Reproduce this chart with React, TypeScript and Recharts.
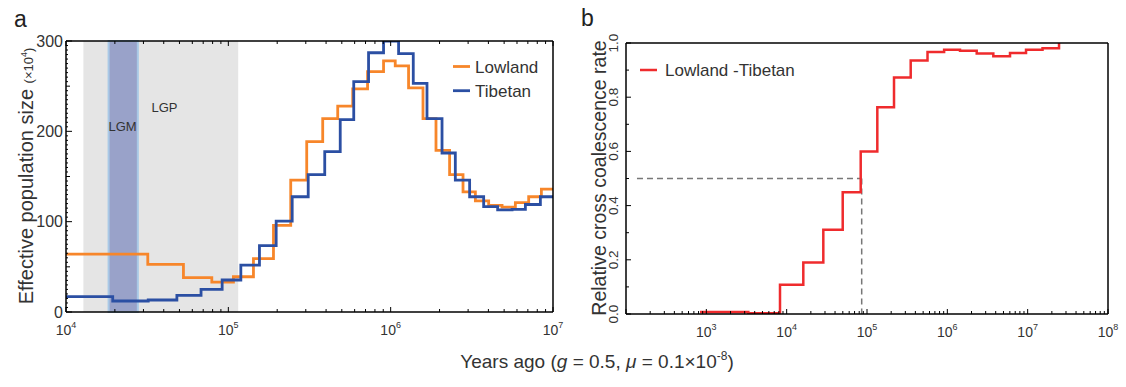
import React from 'react';
import { LineChart, Line, XAxis, YAxis, ReferenceArea, ReferenceLine } from 'recharts';

const FONT = '"Liberation Sans", Arial, Helvetica, sans-serif';
const TEXT = '#333333';
const ORANGE = '#f7862a';
const BLUE = '#2b4fa3';
const RED = '#ef2b2d';

// ---------- Panel a: effective population size (x10^4) ----------
const lowlandTimes = [10000, 31900, 52900, 79100, 107500, 142800, 189700, 242300, 304000, 381400, 471900, 583800, 720600, 904000, 1067000, 1289000, 1582000, 1902000, 2307000, 2791000, 3325000, 4015000, 4855000, 5864000, 7083000, 8481000, 10000000];
const lowlandNe = [64, 52.8, 38, 33, 39, 59, 96, 146, 188.5, 214, 228, 247, 266, 278, 272.5, 248, 214, 179, 152, 133, 123, 118, 116, 121, 127.6, 136];
const tibetanTimes = [10000, 19400, 32100, 48200, 67900, 91600, 119400, 155500, 197100, 247400, 310500, 392500, 489000, 592300, 730800, 904000, 1119000, 1378000, 1674000, 2072000, 2502000, 3065000, 3740000, 4561000, 5596000, 6759000, 8361000, 10000000];
const tibetanNe = [17, 12.2, 13.3, 18.5, 25, 35.4, 52, 73.4, 100.5, 127.6, 152, 177.5, 213, 255, 287, 300, 286, 253, 214, 176, 146, 127.6, 116.6, 113, 113.7, 119, 127.6];
const lgpRange = [12800, 115000];
const lgmRange = [18300, 27700];
const panelAExponents = [4, 5, 6, 7];
const panelAYLabels = [0, 100, 200, 300];
const panelAYMinorStep = 5;

// ---------- Panel b: relative cross coalescence rate ----------
const rccrTimes = [834, 3331, 8261, 16110, 28590, 49850, 83500, 134400, 216900, 349900, 566600, 912000, 1438000, 2321000, 3736000, 6030000, 9539000, 15310000, 24570000];
const rccrValues = [0.007, 0.003, 0.108, 0.19, 0.311, 0.449, 0.6, 0.763, 0.873, 0.935, 0.967, 0.975, 0.971, 0.961, 0.951, 0.963, 0.975, 0.981, 1.03];
const panelBExponents = [2, 3, 4, 5, 6, 7, 8];
const panelBLabelExponents = [3, 4, 5, 6, 7, 8];
const panelBYTicks = [0, 0.1, 0.2, 0.3, 0.4, 0.5, 0.6, 0.7, 0.8, 0.9, 1.0];
const splitTime = 85900;
const splitRate = 0.5;
const dashStart = 137;

const minorMultipliers = [2, 3, 4, 5, 6, 7, 8, 9];

function stepSeries(times: number[], values: number[]) {
  const pts = values.map((v, i) => ({ t: times[i], v }));
  if (times.length > values.length) {
    pts.push({ t: times[values.length], v: values[values.length - 1] });
  }
  return pts;
}

function logTicks(exps: number[]) {
  const out: number[] = [];
  exps.forEach((e, i) => {
    out.push(Math.pow(10, e));
    if (i < exps.length - 1) minorMultipliers.forEach((m) => out.push(m * Math.pow(10, e)));
  });
  return out;
}

const isPow10 = (v: number) => Math.abs(Math.log10(v) - Math.round(Math.log10(v))) < 1e-9;

const makeBottomTick = (labelExps: number[]) => (props: any) => {
  const { x, y, payload } = props;
  const v = payload.value;
  const major = isPow10(v);
  const e = Math.round(Math.log10(v));
  return (
    <g>
      <line x1={x} x2={x} y1={y} y2={y - (major ? 5 : 3)} stroke="#000" strokeWidth={1} />
      {major && labelExps.includes(e) && (
        <text x={x} y={y + 23} textAnchor="middle" fontFamily={FONT} fontSize={14} fill={TEXT}>
          10<tspan dy={-7} fontSize={9}>{e}</tspan>
        </text>
      )}
    </g>
  );
};

const topTick = (props: any) => {
  const { x, y, payload } = props;
  const major = isPow10(payload.value);
  return <line x1={x} x2={x} y1={y} y2={y + (major ? 5 : 3)} stroke="#000" strokeWidth={1} />;
};

const panelAYTick = (props: any) => {
  const { x, y, payload } = props;
  const v = Math.round(payload.value);
  const labeled = panelAYLabels.includes(v);
  const len = labeled ? 6 : v % 50 === 0 ? 4 : 2;
  return (
    <g>
      <line x1={x} x2={x + len} y1={y} y2={y} stroke="#000" strokeWidth={1} />
      {labeled && (
        <text x={x - 3} y={y} dy="0.36em" textAnchor="end" fontFamily={FONT} fontSize={16} fill={TEXT}>
          {v}
        </text>
      )}
    </g>
  );
};

const panelBYTick = (props: any) => {
  const { x, y, payload } = props;
  const k = Math.round(payload.value * 10);
  const labeled = k % 2 === 0;
  return (
    <g>
      <line x1={x} x2={x + (labeled ? 5 : 3)} y1={y} y2={y} stroke="#000" strokeWidth={1} />
      {labeled && (
        <text
          x={x - 8}
          y={y}
          textAnchor="middle"
          transform={`rotate(-90, ${x - 8}, ${y})`}
          fontFamily={FONT}
          fontSize={13.5}
          fill={TEXT}
        >
          {(k / 10).toFixed(1)}
        </text>
      )}
    </g>
  );
};

const panelAYTickValues: number[] = [];
for (let v = 0; v <= 300; v += panelAYMinorStep) panelAYTickValues.push(v);

const lowlandData = stepSeries(lowlandTimes, lowlandNe);
const tibetanData = stepSeries(tibetanTimes, tibetanNe);
const rccrData = stepSeries(rccrTimes, rccrValues);

const frame = { stroke: '#000', strokeWidth: 1.5 };

export default function App() {
  return (
    <div style={{ position: 'absolute', left: 0, top: 0, width: 1126, height: 387, background: '#fff', overflow: 'hidden' }}>
      <div style={{ position: 'absolute', left: 0, top: 0 }}>
        <LineChart width={580} height={340} margin={{ top: 40, left: 65, right: 26, bottom: 27 }}>
          <XAxis
            xAxisId="b"
            dataKey="t"
            type="number"
            scale="log"
            domain={[1e4, 1e7]}
            allowDataOverflow
            ticks={logTicks(panelAExponents)}
            interval={0}
            tick={makeBottomTick(panelAExponents)}
            tickLine={false}
            tickSize={0}
            tickMargin={0}
            height={1}
            axisLine={frame}
          />
          <XAxis
            xAxisId="top"
            orientation="top"
            dataKey="t"
            type="number"
            scale="log"
            domain={[1e4, 1e7]}
            allowDataOverflow
            ticks={logTicks(panelAExponents)}
            interval={0}
            tick={topTick}
            tickLine={false}
            tickSize={0}
            tickMargin={0}
            height={1}
            axisLine={frame}
          />
          <YAxis
            yAxisId="l"
            type="number"
            domain={[0, 300]}
            allowDataOverflow
            ticks={panelAYTickValues}
            interval={0}
            tick={panelAYTick}
            tickLine={false}
            tickSize={0}
            tickMargin={0}
            width={1}
            axisLine={frame}
          />
          <YAxis
            yAxisId="r"
            orientation="right"
            type="number"
            domain={[0, 300]}
            tick={false}
            tickLine={false}
            width={1}
            axisLine={frame}
          />
          <ReferenceArea xAxisId="b" yAxisId="l" x1={lgpRange[0]} x2={lgpRange[1]} y1={0} y2={300} fill="#e5e5e5" fillOpacity={1} stroke="none" />
          <ReferenceArea xAxisId="b" yAxisId="l" x1={lgmRange[0]} x2={lgmRange[1]} y1={0} y2={300} fill="#99a2c9" fillOpacity={1} stroke="#a9c9e6" strokeWidth={2} />
          <Line xAxisId="b" yAxisId="l" data={lowlandData} dataKey="v" type="stepAfter" stroke={ORANGE} strokeWidth={2.8} dot={false} isAnimationActive={false} />
          <Line xAxisId="b" yAxisId="l" data={tibetanData} dataKey="v" type="stepAfter" stroke={BLUE} strokeWidth={2.8} dot={false} isAnimationActive={false} />
        </LineChart>
      </div>
      <div style={{ position: 'absolute', left: 560, top: 0 }}>
        <LineChart width={566} height={340} margin={{ top: 42, left: 65, right: 17, bottom: 25 }}>
          <XAxis
            xAxisId="b"
            dataKey="t"
            type="number"
            scale="log"
            domain={[1e2, 1e8]}
            allowDataOverflow
            ticks={logTicks(panelBExponents)}
            interval={0}
            tick={makeBottomTick(panelBLabelExponents)}
            tickLine={false}
            tickSize={0}
            tickMargin={0}
            height={1}
            axisLine={frame}
          />
          <XAxis
            xAxisId="top"
            orientation="top"
            type="number"
            scale="log"
            domain={[1e2, 1e8]}
            tick={false}
            tickLine={false}
            height={1}
            axisLine={frame}
          />
          <YAxis
            yAxisId="l"
            type="number"
            domain={[0, 1]}
            allowDataOverflow
            ticks={panelBYTicks}
            interval={0}
            tick={panelBYTick}
            tickLine={false}
            tickSize={0}
            tickMargin={0}
            width={1}
            axisLine={frame}
          />
          <YAxis
            yAxisId="r"
            orientation="right"
            type="number"
            domain={[0, 1]}
            tick={false}
            tickLine={false}
            width={1}
            axisLine={frame}
          />
          <ReferenceLine
            xAxisId="b"
            yAxisId="l"
            segment={[{ x: dashStart, y: splitRate }, { x: splitTime, y: splitRate }]}
            stroke="#777"
            strokeWidth={1.5}
            strokeDasharray="6 4"
          />
          <ReferenceLine
            xAxisId="b"
            yAxisId="l"
            segment={[{ x: splitTime, y: splitRate }, { x: splitTime, y: 0 }]}
            stroke="#777"
            strokeWidth={1.5}
            strokeDasharray="6 4"
          />
          <Line xAxisId="b" yAxisId="l" data={rccrData} dataKey="v" type="stepAfter" stroke={RED} strokeWidth={2.5} dot={false} isAnimationActive={false} />
        </LineChart>
      </div>
      <svg width={1126} height={387} style={{ position: 'absolute', left: 0, top: 0, pointerEvents: 'none' }} fontFamily={FONT}>
        <text x={14} y={27} fontSize={23} fill="#222">a</text>
        <text x={581} y={26} fontSize={23} fill="#222">b</text>
        <text x={33} y={176} fontSize={20} fill={TEXT} textAnchor="middle" transform="rotate(-90, 33, 176)">
          Effective population size <tspan fontSize={13}>(×10</tspan><tspan fontSize={9} dy={-6}>4</tspan><tspan fontSize={13} dy={6}>)</tspan>
        </text>
        <text x={606} y={178} fontSize={19.5} fill={TEXT} textAnchor="middle" transform="rotate(-90, 606, 178)">
          Relative cross coalescence rate
        </text>
        <text x={597} y={368} fontSize={19} fill={TEXT} textAnchor="middle">
          Years ago (<tspan fontStyle="italic">g</tspan> = 0.5, <tspan fontStyle="italic">μ</tspan> = 0.1×10<tspan fontSize={12} dy={-8}>-8</tspan><tspan dy={8}>)</tspan>
        </text>
        <text x={164.5} y={112} fontSize={13} fill={TEXT} textAnchor="middle">LGP</text>
        <text x={122.5} y={131} fontSize={13} fill={TEXT} textAnchor="middle">LGM</text>
        <line x1={453} x2={470} y1={66.5} y2={66.5} stroke={ORANGE} strokeWidth={2.8} />
        <text x={475} y={72.7} fontSize={17} fill={TEXT}>Lowland</text>
        <line x1={453} x2={470} y1={90.7} y2={90.7} stroke={BLUE} strokeWidth={2.8} />
        <text x={475} y={97.3} fontSize={17} fill={TEXT}>Tibetan</text>
        <line x1={640} x2={657} y1={70} y2={70} stroke={RED} strokeWidth={2.5} />
        <text x={665} y={75.5} fontSize={17} fill={TEXT}>Lowland -Tibetan</text>
      </svg>
    </div>
  );
}
